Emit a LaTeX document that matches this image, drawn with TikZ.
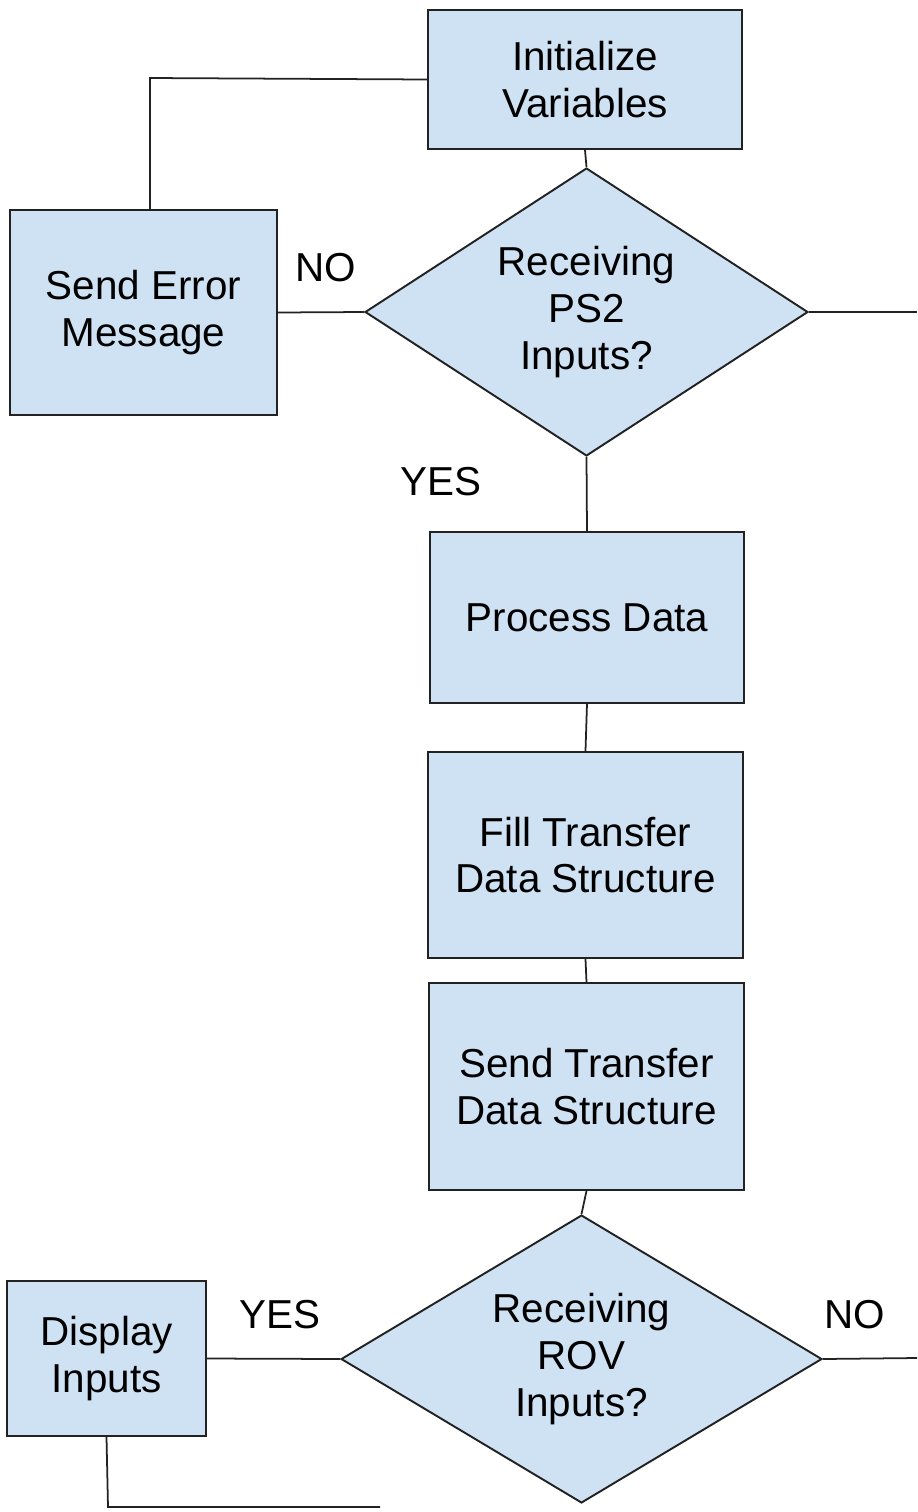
\documentclass[tikz,border=0pt]{standalone}
\usepackage{fontspec}
\setmainfont{Liberation Sans}
\usepackage{tikz}
\usetikzlibrary{calc,shapes.geometric}
\definecolor{boxblue}{HTML}{CFE2F3}
\definecolor{boxline}{HTML}{222222}
\tikzset{
	stepbox/.style={draw=boxline, fill=boxblue, line width=1.1pt, rectangle, inner sep=0pt, align=center, font=\fontsize{23}{26.5}\selectfont},
	askbox/.style={draw=boxline, fill=boxblue, line width=1.1pt, diamond, aspect=1.6, inner sep=0pt, align=center, font=\fontsize{23}{26.5}\selectfont},
	link/.style={draw=boxline, line width=1pt},
	answer/.style={font=\fontsize{23}{26.5}\selectfont}
}

\begin{document}
\begin{tikzpicture}[x=0.02cm, y=-0.02cm]
		%%%%% START %%%%%
		
		\useasboundingbox (0, 0) rectangle (917, 1512);
		
		\node[stepbox, minimum width=6.28cm, minimum height=2.78cm] (init) at (585, 79.5) {Initialize\\Variables};
		\node[stepbox, minimum width=5.34cm, minimum height=4.10cm] (err) at (143.5, 312.5) {Send Error\\Message};
		\node[askbox, minimum width=8.86cm, minimum height=5.76cm] (ps2) at (586.5, 312) {Receiving\\PS2\\Inputs?};
		\node[stepbox, minimum width=6.28cm, minimum height=3.42cm] (proc) at (587, 617.5) {Process Data};
		\node[stepbox, minimum width=6.30cm, minimum height=4.12cm] (fill) at (585.5, 855) {Fill Transfer\\Data Structure};
		\node[stepbox, minimum width=6.30cm, minimum height=4.14cm] (send) at (586.5, 1086.5) {Send Transfer\\Data Structure};
		\node[askbox, minimum width=9.62cm, minimum height=5.76cm] (rov) at (581.5, 1359) {Receiving\\ROV\\Inputs?};
		\node[stepbox, minimum width=3.98cm, minimum height=3.10cm] (disp) at (106.5, 1358.5) {Display\\Inputs};
		
		\coordinate (back) at (150, 78);
		\coordinate (ps2out) at (917, 312);
		\coordinate (rovout) at (917, 1358);
		\coordinate (dispdown) at (108, 1507);
		\coordinate (dispend) at (380, 1507);
		
		\draw[link] (init.west) -- (back) -- (back |- err.north);
		\draw[link] (init.south) -- (ps2.north);
		\draw[link] (err.east) -- (ps2.west);
		\draw[link] (ps2.east) -- (ps2out);
		\draw[link] (ps2.south) -- (proc.north);
		\draw[link] (proc.south) -- (fill.north);
		\draw[link] (fill.south) -- (send.north);
		\draw[link] (send.south) -- (rov.north);
		\draw[link] (rov.east) -- (rovout);
		\draw[link] (disp.east) -- (rov.west);
		\draw[link] (disp.south) -- (dispdown) -- (dispend);
		
		\node[answer] (ps2no) at (326, 268) {NO};
		\node[answer] (ps2yes) at (441, 482) {YES};
		\node[answer] (rovyes) at (280, 1315) {YES};
		\node[answer] (rovno) at (855, 1315) {NO};
		
		%%%%% END %%%%%
	\end{tikzpicture}
\end{document}
